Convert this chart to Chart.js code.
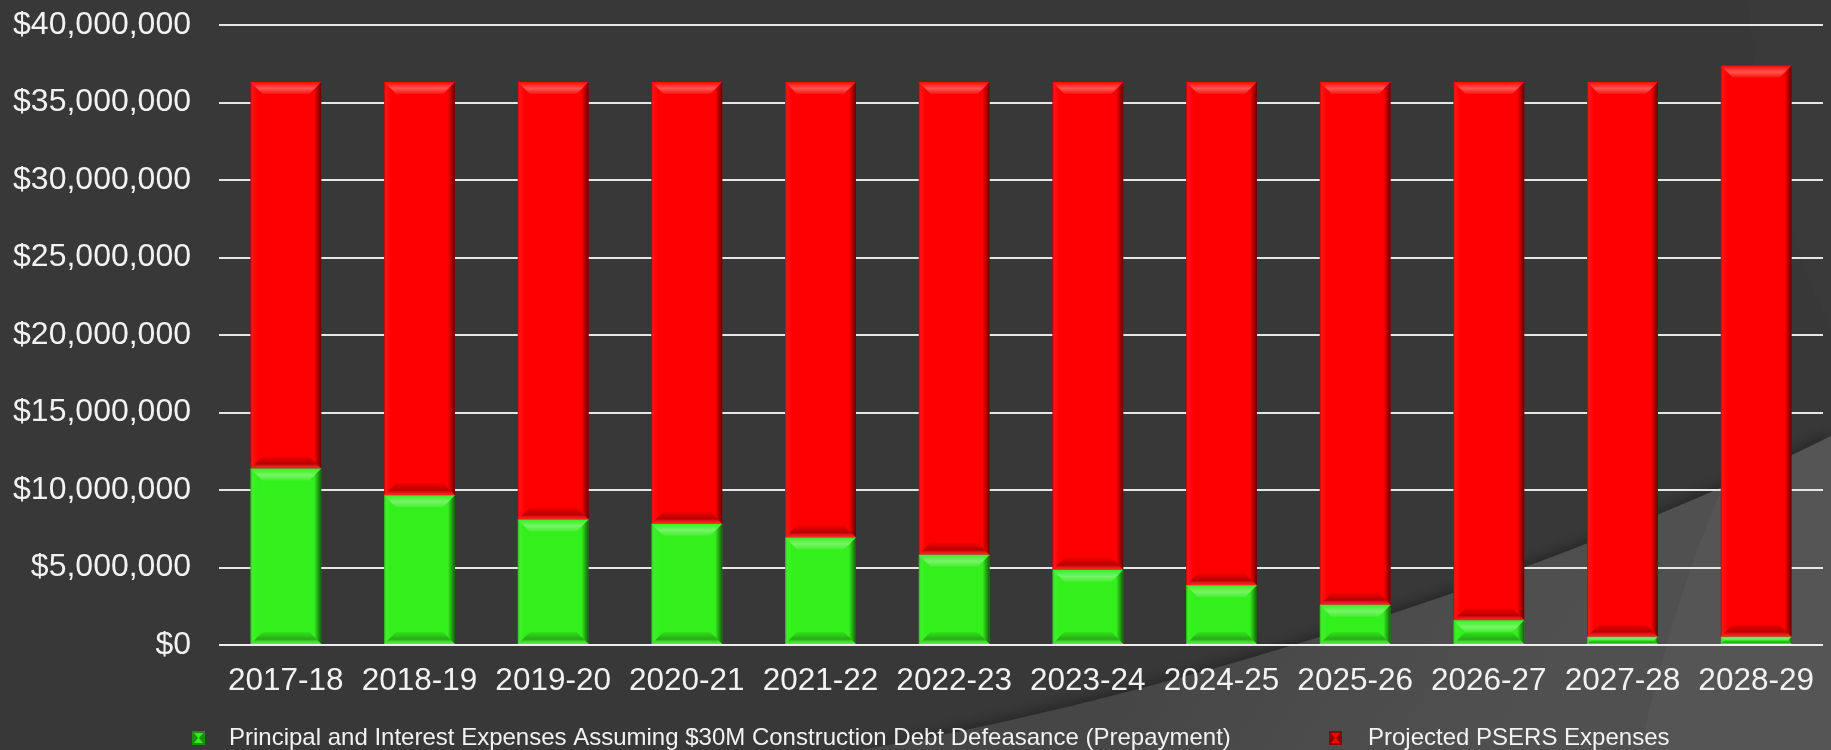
<!DOCTYPE html>
<html>
<head>
<meta charset="utf-8">
<title>Debt Defeasance vs PSERS</title>
<script src="https://cdn.jsdelivr.net/npm/chart.js@4.4.0/dist/chart.umd.min.js"></script>
<style>
    html, body { margin: 0; padding: 0; background: #383838; overflow: hidden; }
    canvas { display: block; }
</style>
</head>
<body>
<canvas id="expenseChart" width="1831" height="750"></canvas>
<script>
const categories = ['2017-18', '2018-19', '2019-20', '2020-21', '2021-22', '2022-23',
    '2023-24', '2024-25', '2025-26', '2026-27', '2027-28', '2028-29'];

const principalInterest = [11380000, 9660000, 8090000, 7830000, 6940000, 5820000,
    4850000, 3850000, 2590000, 1590000, 540000, 540000];

const psersExpenses = [24950000, 26670000, 28240000, 28500000, 29390000, 30510000,
    31480000, 32480000, 33740000, 34740000, 35790000, 36850000];

const seriesLabels = [
    'Principal and Interest Expenses Assuming $30M Construction Debt Defeasance (Prepayment)',
    'Projected PSERS Expenses'
];

const yTickValues = [0, 5000000, 10000000, 15000000, 20000000, 25000000, 30000000, 35000000, 40000000];

const FONT = '"Liberation Sans", Arial, sans-serif';

// dark slide background with the light swoosh in the lower right
const backgroundPlugin = {
    id: 'slideBackground',
    beforeDraw(chart) {
        const ctx = chart.ctx;
        const w = chart.width, h = chart.height;
        ctx.save();
        ctx.fillStyle = '#383838';
        ctx.fillRect(0, 0, w, h);

        // faint wedge top right
        ctx.beginPath();
        ctx.moveTo(1747, 0);
        ctx.bezierCurveTo(1760, 120, 1790, 250, 1831, 330);
        ctx.lineTo(1831, 0);
        ctx.closePath();
        ctx.fillStyle = '#3a3a3a';
        ctx.fill();

        // main light swoosh
        ctx.beginPath();
        ctx.moveTo(860, 750);
        ctx.bezierCurveTo(1100, 710, 1500, 600, 1831, 436);
        ctx.lineTo(1831, 750);
        ctx.closePath();
        ctx.shadowColor = 'rgba(0,0,0,0.35)';
        ctx.shadowBlur = 14;
        ctx.shadowOffsetY = -3;
        const g = ctx.createLinearGradient(1200, 560, 1500, 750);
        g.addColorStop(0, '#464646');
        g.addColorStop(1, '#505050');
        ctx.fillStyle = g;
        ctx.fill();
        ctx.shadowColor = 'transparent';

        // inner lighter fold
        ctx.beginPath();
        ctx.moveTo(1722, 489);
        ctx.bezierCurveTo(1690, 560, 1660, 660, 1640, 750);
        ctx.lineTo(1831, 750);
        ctx.lineTo(1831, 436);
        ctx.closePath();
        ctx.fillStyle = 'rgba(255,255,255,0.03)';
        ctx.fill();
        ctx.restore();
    }
};

// bevelled look on every bar segment
const bevelPlugin = {
    id: 'bevelBars',
    afterDatasetsDraw(chart) {
        const ctx = chart.ctx;
        chart.data.datasets.forEach((ds, i) => {
            const meta = chart.getDatasetMeta(i);
            meta.data.forEach(bar => {
                const p = bar.getProps(['x', 'y', 'base', 'width'], true);
                const left = p.x - p.width / 2, right = p.x + p.width / 2;
                const top = Math.min(p.y, p.base), bottom = Math.max(p.y, p.base);
                const h = bottom - top;
                if (h < 1) return;
                const b = Math.min(12, h / 2);
                const s = Math.min(7, h / 2);
                ctx.save();

                // top bevel with highlight band
                let g = ctx.createLinearGradient(0, top, 0, top + b);
                g.addColorStop(0, 'rgba(255,255,255,0.02)');
                g.addColorStop(0.55, 'rgba(255,255,255,0.33)');
                g.addColorStop(1, 'rgba(255,255,255,0.08)');
                ctx.beginPath();
                ctx.moveTo(left, top);
                ctx.lineTo(right, top);
                ctx.lineTo(right - b, top + b);
                ctx.lineTo(left + b, top + b);
                ctx.closePath();
                ctx.fillStyle = g;
                ctx.fill();

                // right shadow
                g = ctx.createLinearGradient(right - s, 0, right, 0);
                g.addColorStop(0, 'rgba(0,0,0,0)');
                g.addColorStop(1, 'rgba(0,0,0,0.6)');
                ctx.beginPath();
                ctx.moveTo(right, top);
                ctx.lineTo(right, bottom);
                ctx.lineTo(right - s, bottom - s);
                ctx.lineTo(right - s, top + s);
                ctx.closePath();
                ctx.fillStyle = g;
                ctx.fill();

                // left edge
                g = ctx.createLinearGradient(left, 0, left + s, 0);
                g.addColorStop(0, 'rgba(0,0,0,0.25)');
                g.addColorStop(0.4, 'rgba(255,255,255,0.06)');
                g.addColorStop(1, 'rgba(255,255,255,0)');
                ctx.beginPath();
                ctx.moveTo(left, top);
                ctx.lineTo(left + s, top + s);
                ctx.lineTo(left + s, bottom - s);
                ctx.lineTo(left, bottom);
                ctx.closePath();
                ctx.fillStyle = g;
                ctx.fill();

                // bottom bevel
                g = ctx.createLinearGradient(0, bottom - b, 0, bottom);
                g.addColorStop(0, 'rgba(0,0,0,0.05)');
                g.addColorStop(0.6, 'rgba(0,0,0,0.28)');
                g.addColorStop(1, 'rgba(255,255,255,0.12)');
                ctx.beginPath();
                ctx.moveTo(left, bottom);
                ctx.lineTo(left + b, bottom - b);
                ctx.lineTo(right - b, bottom - b);
                ctx.lineTo(right, bottom);
                ctx.closePath();
                ctx.fillStyle = g;
                ctx.fill();
                ctx.restore();
            });
        });

        // base line runs across the bars
        const yScale = chart.scales.y;
        const y0 = Math.round(yScale.getPixelForValue(0));
        ctx.save();
        ctx.strokeStyle = '#eeeeee';
        ctx.lineWidth = 2;
        ctx.beginPath();
        ctx.moveTo(chart.chartArea.left, y0);
        ctx.lineTo(chart.chartArea.right, y0);
        ctx.stroke();
        ctx.restore();
    }
};

// legend spread out like the slide
const legendBoxX = [192, 1329];
const legendTextX = [229, 1368];
const legendPlugin = {
    id: 'slideLegend',
    afterDraw(chart) {
        const ctx = chart.ctx;
        const cy = 738;
        ctx.save();
        chart.data.datasets.forEach((ds, i) => {
            const bx = legendBoxX[i];
            ctx.fillStyle = ds.legendEdge;
            ctx.fillRect(bx, cy - 7, 13, 14);
            ctx.fillStyle = ds.backgroundColor;
            ctx.beginPath();
            ctx.moveTo(bx + 2, cy - 5);
            ctx.lineTo(bx + 11, cy - 5);
            ctx.lineTo(bx + 7, cy);
            ctx.lineTo(bx + 11, cy + 5);
            ctx.lineTo(bx + 2, cy + 5);
            ctx.lineTo(bx + 6, cy);
            ctx.closePath();
            ctx.fill();
            ctx.fillStyle = '#f2f2f2';
            ctx.font = '24px ' + FONT;
            ctx.textBaseline = 'middle';
            ctx.textAlign = 'left';
            ctx.fillText(ds.label, legendTextX[i], cy);
        });
        ctx.restore();
    }
};

const ctx = document.getElementById('expenseChart').getContext('2d');

new Chart(ctx, {
    type: 'bar',
    data: {
        labels: categories,
        datasets: [{
            label: seriesLabels[0],
            data: principalInterest,
            backgroundColor: '#33ef1c',
            legendEdge: '#1d8f10',
            borderWidth: 0,
            categoryPercentage: 1,
            barPercentage: 0.53
        }, {
            label: seriesLabels[1],
            data: psersExpenses,
            backgroundColor: '#ff0000',
            legendEdge: '#8f0000',
            borderWidth: 0,
            categoryPercentage: 1,
            barPercentage: 0.53
        }]
    },
    options: {
        responsive: false,
        animation: false,
        layout: {
            padding: { top: 25, right: 8, bottom: 49, left: 0 }
        },
        plugins: {
            legend: { display: false },
            tooltip: { enabled: false }
        },
        scales: {
            x: {
                stacked: true,
                grid: { display: false },
                border: { display: false },
                ticks: {
                    color: '#f2f2f2',
                    padding: 9,
                    maxRotation: 0,
                    autoSkip: false,
                    font: { family: FONT, size: 31.5 }
                },
                afterFit(scale) {
                    scale.height = 56;
                }
            },
            y: {
                stacked: true,
                min: 0,
                max: 40000000,
                afterBuildTicks(scale) {
                    scale.ticks = yTickValues.map(v => ({ value: v }));
                },
                grid: {
                    color: '#e6e6e6',
                    lineWidth: 2,
                    drawTicks: false
                },
                border: { display: false },
                ticks: {
                    color: '#f2f2f2',
                    padding: 28,
                    font: { family: FONT, size: 32 },
                    callback: function(value) {
                        return '$' + Number(value).toLocaleString('en-US');
                    }
                },
                afterFit(scale) {
                    scale.width = 219;
                    scale.paddingTop = 20;
                    scale.paddingBottom = 20;
                }
            }
        }
    },
    plugins: [backgroundPlugin, bevelPlugin, legendPlugin]
});
</script>
</body>
</html>
